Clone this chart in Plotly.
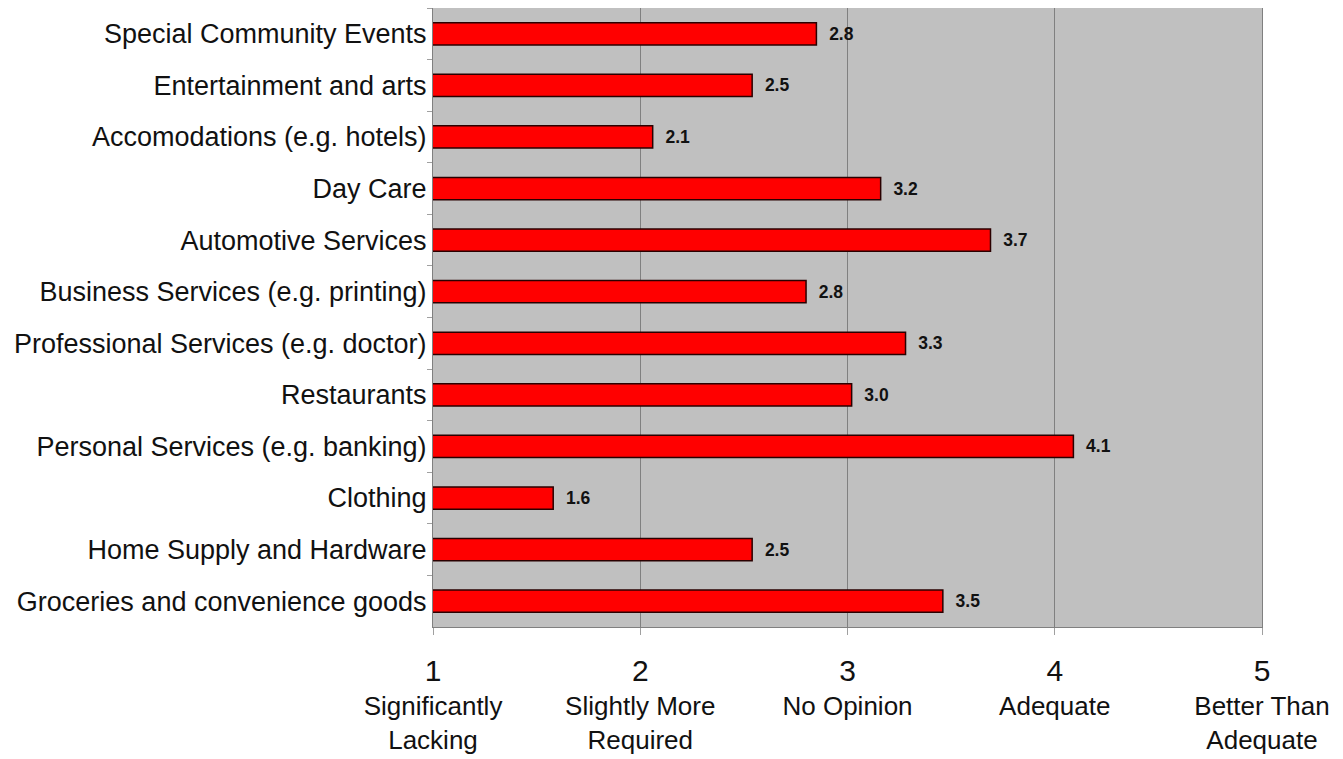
import plotly.graph_objects as go

services = ['Special Community Events', 'Entertainment and arts', 'Accomodations (e.g. hotels)',
            'Day Care', 'Automotive Services', 'Business Services (e.g. printing)',
            'Professional Services (e.g. doctor)', 'Restaurants', 'Personal Services (e.g. banking)',
            'Clothing', 'Home Supply and Hardware', 'Groceries and convenience goods']
scores = [2.85, 2.54, 2.06, 3.16, 3.69, 2.80, 3.28, 3.02, 4.09, 1.58, 2.54, 3.46]
score_labels = ['2.8', '2.5', '2.1', '3.2', '3.7', '2.8', '3.3', '3.0', '4.1', '1.6', '2.5', '3.5']

scale_vals = [1, 2, 3, 4, 5]
scale_names = ['Significantly<br>Lacking', 'Slightly More<br>Required', 'No Opinion',
               'Adequate', 'Better Than<br>Adequate']
tick_text = ["<span style='font-size:30px'>%d</span><br>%s" % (v, n) for v, n in zip(scale_vals, scale_names)]

fig = go.Figure()
fig.add_trace(go.Bar(
    y=services, x=scores, orientation='h', width=0.43,
    marker=dict(color='#ff0000', line=dict(color='#2a0000', width=1.5)),
    text=score_labels, texttemplate='  %{text}', textposition='outside', cliponaxis=False,
    textfont=dict(family='Liberation Sans, Arial', size=17.5, color='#111111', weight='bold'),
))

# page body has an 8px default margin, so size the figure to fit the window
fig.update_layout(
    width=1335, height=751,
    margin=dict(l=425, r=81, t=0, b=132),
    paper_bgcolor='white', plot_bgcolor='#c0c0c0',
    font=dict(family='Liberation Sans, Arial', color='#111111'),
    showlegend=False,
)
fig.update_xaxes(range=[1, 5], tickvals=scale_vals, ticktext=tick_text,
                 tickfont=dict(size=26), showgrid=True, gridcolor='#808080', gridwidth=1,
                 ticks='outside', ticklen=7, tickcolor='#a0a0a0', ticklabelstandoff=15,
                 showline=True, linecolor='#808080', mirror=True, zeroline=False)
fig.update_yaxes(autorange='reversed', tickfont=dict(size=27), tickson='boundaries',
                 ticks='outside', ticklen=5, tickcolor='#a0a0a0',
                 showline=True, linecolor='#808080', mirror=True)

fig.write_html("out.html")
